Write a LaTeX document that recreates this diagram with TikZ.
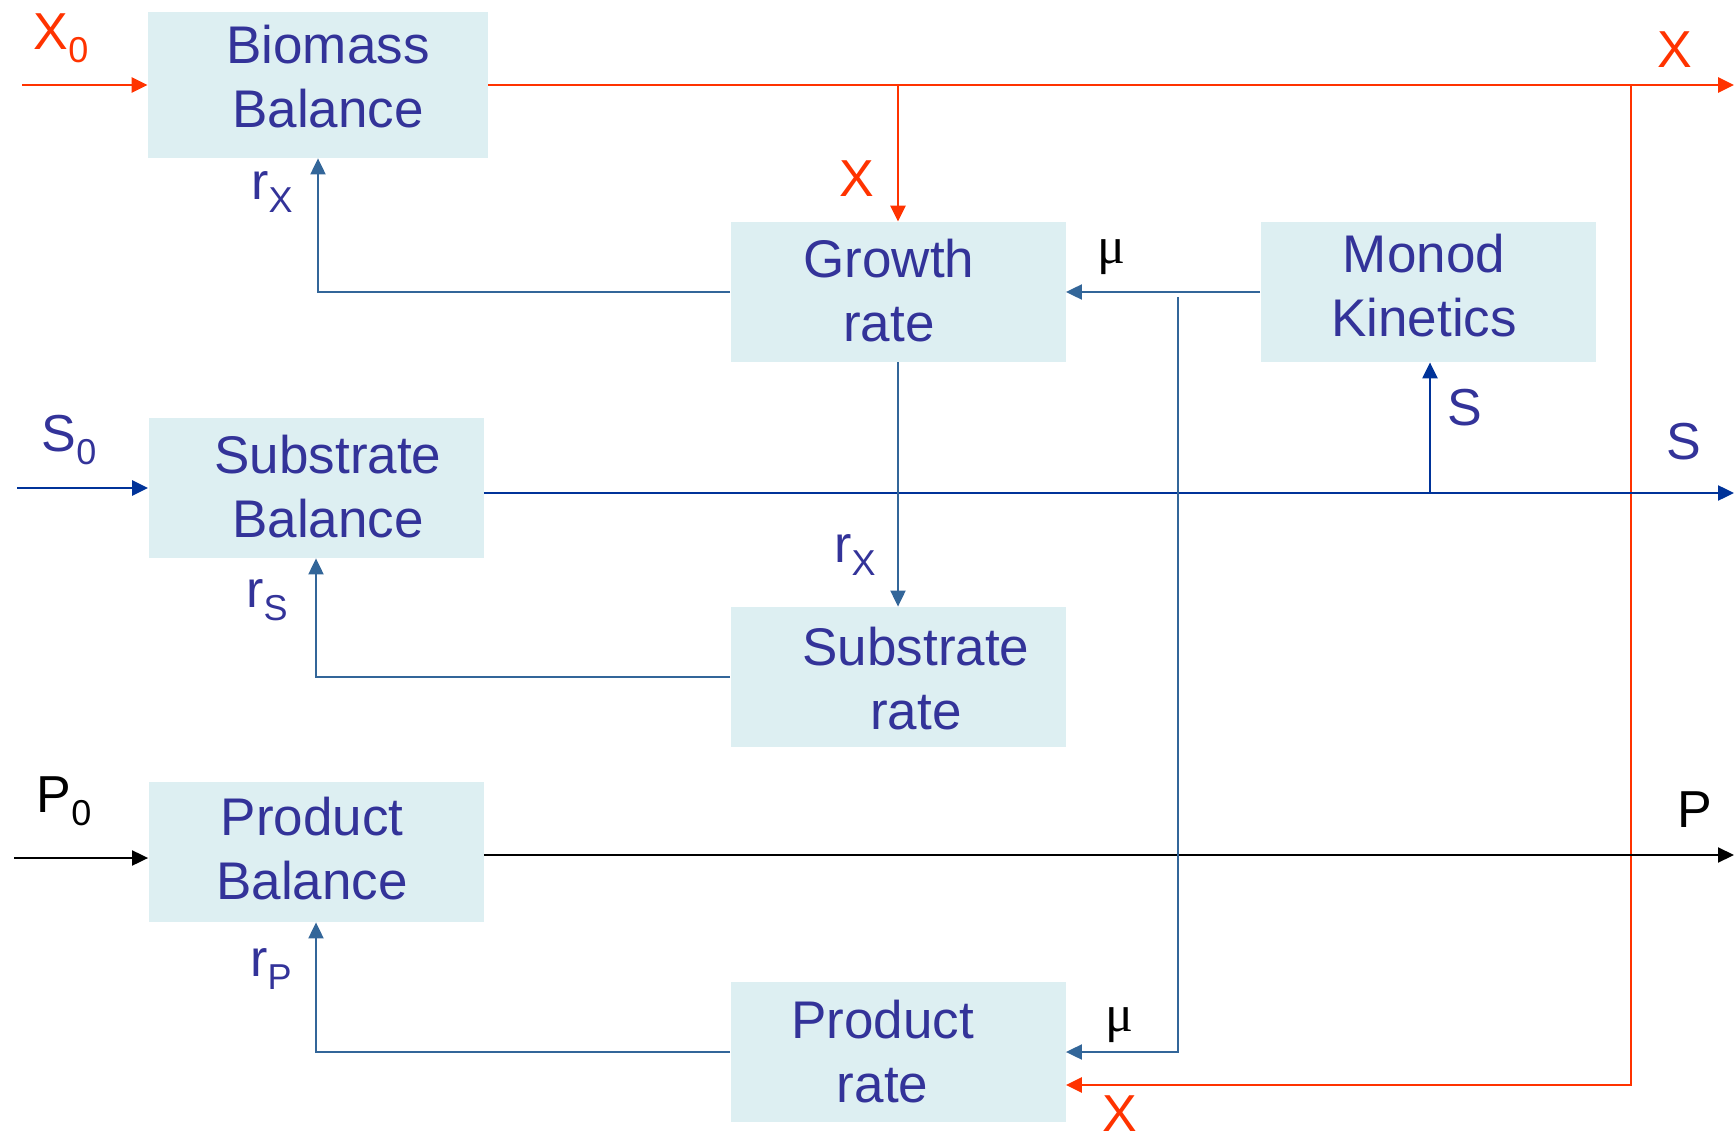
\documentclass[tikz,border=0pt]{standalone}
\usepackage{fontspec}
\setmainfont{Liberation Sans}
\newfontfamily\mufont{Liberation Serif}
\usetikzlibrary{arrows.meta}

\definecolor{boxfill}{HTML}{DDEFF2}
\definecolor{boxtext}{HTML}{333399}
\definecolor{xred}{HTML}{FF3300}
\definecolor{sblue}{HTML}{003399}
\definecolor{rblue}{HTML}{336699}

% label with a lowered subscript
\newcommand{\lbl}[2]{#1{\fontsize{18}{18}\selectfont\raisebox{-6.5pt}{#2}}}
% block text, nudged by (#1,#2) inside its box
\newcommand{\btxt}[3]{\raisebox{#2}[\height][\depth]{\kern#1\begin{tabular}{@{}c@{}}#3\end{tabular}\kern-#1}}

\tikzset{
  block/.style={fill=boxfill, text=boxtext, minimum width=167.5pt, minimum height=70pt,
    align=center, inner sep=0pt, font=\fontsize{26.5}{32}\selectfont},
  tip/.style={-{Triangle[length=8pt,width=7.5pt]}},
  xflow/.style={xred, line width=1.4pt},
  sflow/.style={sblue, line width=1.2pt},
  pflow/.style={black, line width=1pt},
  rflow/.style={rblue, line width=1pt},
  lab/.style={font=\fontsize{26}{30}\selectfont, inner sep=0pt},
  mulab/.style={font=\mufont\fontsize{26}{26}\selectfont, inner sep=0pt}
}

\begin{document}
\begin{tikzpicture}[x=0.5pt,y=-0.5pt]
\useasboundingbox (0,0) rectangle (1734,1144);

%Blocks
\node[block, minimum width=170pt, minimum height=73pt] (bio) at (318,85) {\btxt{5pt}{1.2pt}{Biomass\\Balance}};
\node[block] (growth) at (898,292) {\btxt{-4.5pt}{-2.3pt}{Growth\\rate}};
\node[block] (monod) at (1428,292) {\btxt{-2pt}{0.2pt}{Monod\\Kinetics}};
\node[block] (subbal) at (316,488) {\btxt{6pt}{-2.3pt}{Substrate\\Balance}};
\node[block] (subrate) at (898,677) {\btxt{9pt}{-3.8pt}{Substrate\\rate}};
\node[block] (prodbal) at (316,852) {\btxt{-2pt}{-1.2pt}{Product\\Balance}};
\node[block] (prodrate) at (898,1052) {\btxt{-7.7pt}{-2.7pt}{Product\\rate}};

%Free ends
\coordinate (xin) at (22,85);
\coordinate (xout) at (1734,85);
\coordinate (xtap) at (1631,85);
\coordinate (sin) at (17,488);
\coordinate (sout) at (1734,493);
\coordinate (stap) at (1430,493);
\coordinate (pin) at (14,858);
\coordinate (pout) at (1734,855);
\coordinate (mutap) at (1178,297);

%Biomass (red)
\draw[xflow,tip] (xin) -- (bio.west);
\draw[xflow,tip] (bio.east) -- (xout);
\draw[xflow,tip] (bio.east -| growth.north) -- (growth.north);
\draw[xflow,tip] (xtap) |- ([yshift=-16.5pt]prodrate.east);

%Substrate
\draw[sflow,tip] (sin) -- (subbal.west);
\draw[sflow,tip] ([yshift=-2.5pt]subbal.east) -- (sout);
\draw[sflow,tip] (stap) -- (stap |- monod.south);

%Product
\draw[pflow,tip] (pin) -- ([yshift=-3pt]prodbal.west);
\draw[pflow,tip] ([yshift=-1.5pt]prodbal.east) -- (pout);

%Rates
\draw[rflow,tip] (growth.west) -| (bio.south);
\draw[rflow,tip] (growth.south) -- (subrate.north);
\draw[rflow,tip] (subrate.west) -| (subbal.south);
\draw[rflow,tip] (prodrate.west) -| (prodbal.south);
\draw[rflow,tip] (monod.west) -- (growth.east);
\draw[rflow,tip] (mutap) |- (prodrate.east);

%Labels
\node[lab, text=xred] (lx0) at (61,38) {\lbl{X}{0}};
\node[lab, text=xred] (lxout) at (1675,50) {X};
\node[lab, text=xred] (lxg) at (857,179) {X};
\node[lab, text=xred] (lxp) at (1120,1114) {X};
\node[lab, text=boxtext] (lrx) at (272,192) {\lbl{r}{X}};
\node[lab, text=boxtext] (lrx2) at (855,555) {\lbl{r}{X}};
\node[lab, text=boxtext] (lrs) at (267,600) {\lbl{r}{S}};
\node[lab, text=boxtext] (lrp) at (271,969) {\lbl{r}{P}};
\node[lab, text=boxtext] (ls0) at (69,440) {\lbl{S}{0}};
\node[lab, text=boxtext] (lsm) at (1465,408) {S};
\node[lab, text=boxtext] (lsout) at (1684,442) {S};
\node[lab] (lp0) at (64,801) {\lbl{P}{0}};
\node[lab] (lpout) at (1695,810) {P};
\node[mulab] (lmu) at (1111,257) {μ};
\node[mulab] (lmu2) at (1119,1025) {μ};
\end{tikzpicture}
\end{document}
